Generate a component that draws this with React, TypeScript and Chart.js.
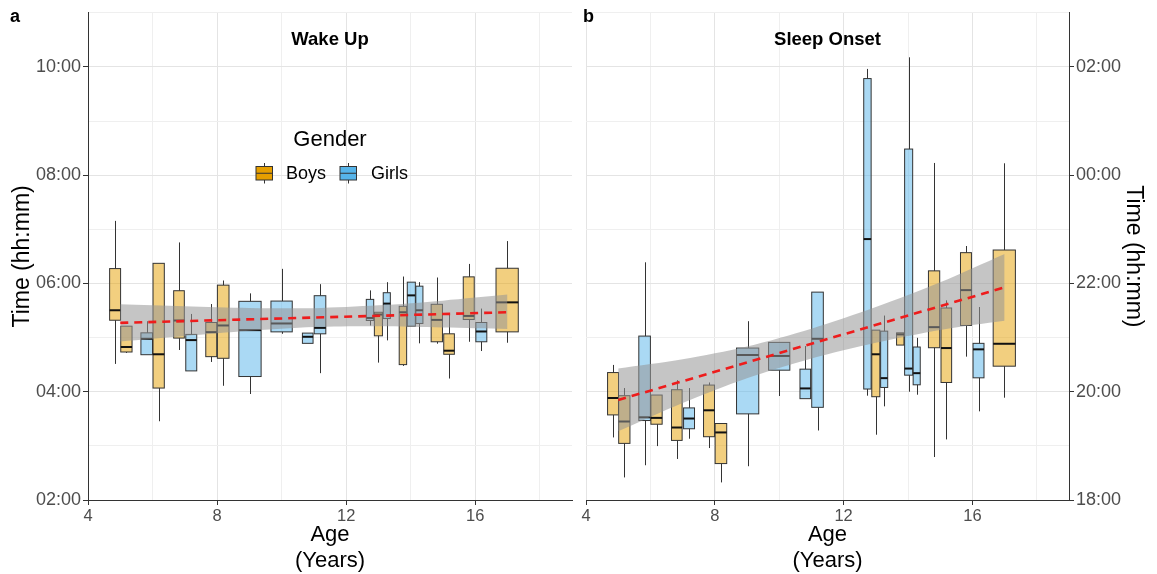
import React, { useEffect, useRef } from 'react';
import { Chart, registerables } from 'chart.js';

Chart.register(...registerables);

const FONT = "'Liberation Sans', Arial, sans-serif";

// Box positions (age in years) shared by both panels
const BOX_AGE = [4.84, 5.19, 5.82, 6.19, 6.82, 7.2, 7.82, 8.19, 9.02, 10.0, 10.81, 11.19, 12.74, 13.0, 13.26, 13.76, 14.02, 14.27, 14.81, 15.19, 15.8, 16.19, 16.99];
const BOX_WIDTH = [0.34, 0.35, 0.36, 0.35, 0.33, 0.34, 0.34, 0.36, 0.69, 0.66, 0.33, 0.36, 0.23, 0.25, 0.22, 0.23, 0.25, 0.22, 0.35, 0.33, 0.34, 0.34, 0.69];
const BOX_GENDER = ['Boys', 'Boys', 'Girls', 'Boys', 'Boys', 'Girls', 'Boys', 'Boys', 'Girls', 'Girls', 'Girls', 'Girls', 'Girls', 'Boys', 'Girls', 'Boys', 'Girls', 'Girls', 'Boys', 'Boys', 'Boys', 'Girls', 'Boys'];

// Wake up (hours)
const WAKE_LOW = [4.514, 4.716, 4.684, 3.455, 4.771, 4.385, 4.55, 4.11, 3.958, 5.07, 4.894, 4.343, 5.224, 4.538, 4.949, 4.477, 5.211, 4.894, 4.887, 4.244, 4.923, 4.752, 4.905];
const WAKE_Q1 = [5.321, 4.734, 4.684, 4.068, 4.991, 4.385, 4.648, 4.618, 4.281, 5.106, 4.894, 5.07, 5.316, 5.033, 5.352, 4.501, 5.211, 5.261, 4.923, 4.692, 5.334, 4.923, 5.106];
const WAKE_MED = [5.505, 4.826, 4.978, 4.692, 5.316, 4.954, 5.101, 5.224, 5.138, 5.261, 5.015, 5.18, 5.363, 5.426, 5.628, 5.468, 5.78, 5.505, 5.327, 4.758, 5.4, 5.113, 5.651];
const WAKE_Q3 = [6.275, 5.211, 5.088, 6.372, 5.866, 5.059, 5.279, 5.969, 5.67, 5.675, 5.083, 5.774, 5.706, 5.468, 5.829, 5.578, 6.024, 5.95, 5.615, 5.07, 6.122, 5.279, 6.281];
const WAKE_HIGH = [7.156, 5.211, 5.303, 6.372, 6.758, 5.437, 5.62, 6.055, 5.817, 6.27, 5.083, 5.987, 5.872, 5.468, 6.024, 6.128, 6.024, 6.024, 6.11, 5.426, 6.361, 5.536, 6.783];

// Sleep onset (hours, 24 = 00:00)
const ONSET_LOW = [19.156, 18.417, 18.642, 18.996, 18.758, 19.132, 18.96, 18.325, 18.624, 19.921, 19.872, 19.284, 19.927, 19.206, 19.73, 20.862, 20.0, 19.945, 18.794, 19.119, 20.648, 19.638, 19.89];
const ONSET_Q1 = [19.572, 19.046, 19.468, 19.4, 19.101, 19.316, 19.169, 18.673, 19.591, 20.398, 19.872, 19.712, 20.05, 19.908, 20.079, 20.862, 20.306, 20.128, 20.813, 20.171, 21.224, 20.257, 20.472];
const ONSET_MED = [19.884, 19.45, 19.528, 19.517, 19.339, 19.505, 19.657, 19.248, 20.679, 20.661, 20.061, 20.978, 22.82, 20.692, 20.251, 21.059, 20.428, 20.343, 21.193, 20.807, 21.877, 20.783, 20.886];
const ONSET_Q3 = [20.354, 19.927, 21.028, 19.939, 20.037, 19.701, 20.123, 19.413, 20.807, 20.912, 20.417, 21.84, 25.785, 21.138, 21.119, 21.088, 24.483, 20.826, 22.233, 21.547, 22.569, 20.894, 22.618];
const ONSET_HIGH = [20.495, 20.068, 22.391, 19.939, 20.215, 20.068, 20.171, 19.413, 21.303, 20.912, 20.844, 21.84, 25.963, 21.138, 21.407, 21.088, 26.178, 20.996, 24.226, 21.688, 22.692, 21.565, 24.22];

// Trend lines and confidence bands
const TREND_AGES = [5, 17];
const WAKE_TREND = [5.272, 5.468];
const ONSET_TREND = [19.848, 21.927];
const BAND_AGES = [5, 7, 9, 11, 13, 15, 17];
const WAKE_CI_HI = [5.615, 5.58, 5.548, 5.544, 5.596, 5.683, 5.794];
const WAKE_CI_LO = [4.929, 5.03, 5.126, 5.196, 5.21, 5.187, 5.16];
const ONSET_CI_HI = [20.428, 20.599, 20.835, 21.163, 21.564, 22.021, 22.545];
const ONSET_CI_LO = [19.268, 19.791, 20.247, 20.613, 20.904, 21.141, 21.309];

const GENDER_FILL: Record<string, string> = { Boys: 'rgba(230,159,0,0.5)', Girls: 'rgba(86,180,233,0.5)' };
const GENDER_SOLID: Record<string, string> = { Boys: '#E69F00', Girls: '#56B4E9' };

const pad2 = (n: number) => String(n).padStart(2, '0');

function boxPlugin(low: number[], q1: number[], med: number[], q3: number[], high: number[]) {
  return {
    id: 'boxes',
    beforeDatasetsDraw(chart: any) {
      const { ctx } = chart;
      const x = chart.scales.x;
      const y = chart.scales.y;
      ctx.save();
      for (let i = 0; i < BOX_AGE.length; i++) {
        const xc = Math.round(x.getPixelForValue(BOX_AGE[i])) + 0.5;
        const x0 = x.getPixelForValue(BOX_AGE[i] - BOX_WIDTH[i] / 2);
        const x1 = x.getPixelForValue(BOX_AGE[i] + BOX_WIDTH[i] / 2);
        const yl = y.getPixelForValue(low[i]);
        const y1 = y.getPixelForValue(q1[i]);
        const ym = y.getPixelForValue(med[i]);
        const y3 = y.getPixelForValue(q3[i]);
        const yh = y.getPixelForValue(high[i]);
        ctx.strokeStyle = '#333';
        ctx.lineWidth = 1;
        ctx.beginPath();
        ctx.moveTo(xc, yh);
        ctx.lineTo(xc, y3);
        ctx.moveTo(xc, y1);
        ctx.lineTo(xc, yl);
        ctx.stroke();
        ctx.fillStyle = GENDER_FILL[BOX_GENDER[i]];
        ctx.fillRect(x0, y3, x1 - x0, y1 - y3);
        ctx.strokeRect(x0, y3, x1 - x0, y1 - y3);
        ctx.strokeStyle = '#111';
        ctx.lineWidth = 2;
        ctx.beginPath();
        ctx.moveTo(x0, ym);
        ctx.lineTo(x1, ym);
        ctx.stroke();
      }
      ctx.restore();
    },
  };
}

function drawSwatch(ctx: any, x0: number, x1: number, y0: number, y1: number, color: string) {
  const xc = Math.round((x0 + x1) / 2) + 0.5;
  ctx.save();
  ctx.strokeStyle = '#333';
  ctx.lineWidth = 1;
  ctx.beginPath();
  ctx.moveTo(xc, y0 - 3.5);
  ctx.lineTo(xc, y0);
  ctx.moveTo(xc, y1);
  ctx.lineTo(xc, y1 + 3.5);
  ctx.stroke();
  ctx.fillStyle = color;
  ctx.fillRect(x0, y0, x1 - x0, y1 - y0);
  ctx.strokeRect(x0, y0, x1 - x0, y1 - y0);
  ctx.beginPath();
  ctx.moveTo(x0, (y0 + y1) / 2);
  ctx.lineTo(x1, (y0 + y1) / 2);
  ctx.stroke();
  ctx.restore();
}

function labelPlugin(letter: string, letterX: number, title: string, legend: boolean) {
  return {
    id: 'labels',
    afterDraw(chart: any) {
      const { ctx, chartArea } = chart;
      ctx.save();
      ctx.fillStyle = '#000';
      ctx.textBaseline = 'middle';
      ctx.textAlign = 'left';
      ctx.font = `bold 18px ${FONT}`;
      ctx.fillText(letter, letterX, 17);
      ctx.textAlign = 'center';
      ctx.font = `bold 18.5px ${FONT}`;
      ctx.fillText(title, (chartArea.left + chartArea.right) / 2, 40);
      if (legend) {
        ctx.font = `22px ${FONT}`;
        ctx.fillText('Gender', 330, 140);
        drawSwatch(ctx, 256, 272.5, 166.5, 180, GENDER_SOLID.Boys);
        drawSwatch(ctx, 340, 356.5, 166.5, 180, GENDER_SOLID.Girls);
        ctx.fillStyle = '#000';
        ctx.textAlign = 'left';
        ctx.font = `18px ${FONT}`;
        ctx.fillText('Boys', 286, 174);
        ctx.fillText('Girls', 371, 174);
      }
      ctx.restore();
    },
  };
}

function gridColor(v: number | undefined, major: number, step: number) {
  if (v === undefined) return 'transparent';
  if (v % major === 0) return '#e4e4e4';
  if (v % step === 0) return '#efefef';
  return 'transparent';
}

function buildConfig(side: 'left' | 'right') {
  const isLeft = side === 'left';
  const trend = isLeft ? WAKE_TREND : ONSET_TREND;
  const hi = isLeft ? WAKE_CI_HI : ONSET_CI_HI;
  const lo = isLeft ? WAKE_CI_LO : ONSET_CI_LO;
  const yMin = isLeft ? 2 : 18;
  const yMax = isLeft ? 11 : 27;
  return {
    type: 'line',
    data: {
      datasets: [
        {
          label: 'ci_hi',
          data: BAND_AGES.map((a, i) => ({ x: a, y: hi[i] })),
          borderColor: 'transparent',
          pointRadius: 0,
          fill: false,
          tension: 0.3,
          order: 3,
        },
        {
          label: 'ci_lo',
          data: BAND_AGES.map((a, i) => ({ x: a, y: lo[i] })),
          borderColor: 'transparent',
          backgroundColor: 'rgba(150,150,150,0.55)',
          pointRadius: 0,
          fill: '-1',
          tension: 0.3,
          order: 2,
        },
        {
          label: 'trend',
          data: TREND_AGES.map((a, i) => ({ x: a, y: trend[i] })),
          borderColor: '#ee1c1c',
          borderWidth: 2.6,
          borderDash: [8, 6],
          pointRadius: 0,
          fill: false,
          order: 0,
        },
      ],
    },
    options: {
      responsive: false,
      animation: false,
      devicePixelRatio: 1,
      layout: { padding: isLeft ? { top: 10, right: 6, left: 0, bottom: 0 } : { top: 10, right: 0, left: 8, bottom: 0 } },
      plugins: { legend: { display: false }, tooltip: { enabled: false } },
      scales: {
        x: {
          type: 'linear',
          position: 'bottom',
          min: 4,
          max: 19,
          ticks: {
            stepSize: 2,
            autoSkip: false,
            maxRotation: 0,
            padding: 2,
            color: '#4d4d4d',
            font: { size: 16.5, family: FONT },
            callback: (v: number) => (v % 4 === 0 ? String(v) : ''),
          },
          grid: {
            color: (c: any) => gridColor(c.tick ? c.tick.value : undefined, 4, 2),
            tickLength: 5,
            tickColor: (c: any) => (c.tick && c.tick.value % 4 === 0 ? '#333' : 'transparent'),
          },
          border: { display: true, color: '#333', width: 1 },
          title: {
            display: true,
            text: ['Age', '(Years)'],
            color: '#000',
            font: { size: 22, family: FONT, lineHeight: 1.18 },
            padding: { top: 0, bottom: 0 },
          },
          afterFit: (s: any) => {
            s.height = 74;
          },
        },
        y: {
          type: 'linear',
          position: isLeft ? 'left' : 'right',
          min: yMin,
          max: yMax,
          ticks: {
            stepSize: 1,
            autoSkip: false,
            padding: 2,
            color: '#4d4d4d',
            font: { size: 18, family: FONT },
            callback: (v: number) => (v % 2 === 0 ? `${pad2(v % 24)}:00` : ''),
          },
          grid: {
            color: (c: any) => gridColor(c.tick ? c.tick.value : undefined, 2, 1),
            tickLength: 5,
            tickColor: (c: any) => (c.tick && c.tick.value % 2 === 0 ? '#333' : 'transparent'),
          },
          border: { display: true, color: '#333', width: 1 },
          title: {
            display: true,
            text: 'Time (hh:mm)',
            color: '#000',
            font: { size: 23, family: FONT },
            padding: { top: isLeft ? 9 : 10, bottom: 0 },
          },
          afterFit: (s: any) => {
            s.width = 88;
          },
        },
      },
    },
    plugins: [
      isLeft
        ? boxPlugin(WAKE_LOW, WAKE_Q1, WAKE_MED, WAKE_Q3, WAKE_HIGH)
        : boxPlugin(ONSET_LOW, ONSET_Q1, ONSET_MED, ONSET_Q3, ONSET_HIGH),
      isLeft ? labelPlugin('a', 10, 'Wake Up', true) : labelPlugin('b', 5, 'Sleep Onset', false),
    ],
  };
}

export default function App() {
  const leftRef = useRef<HTMLCanvasElement | null>(null);
  const rightRef = useRef<HTMLCanvasElement | null>(null);

  useEffect(() => {
    Chart.defaults.font.family = FONT;
    const c1 = new Chart(leftRef.current as HTMLCanvasElement, buildConfig('left') as any);
    const c2 = new Chart(rightRef.current as HTMLCanvasElement, buildConfig('right') as any);
    return () => {
      c1.destroy();
      c2.destroy();
    };
  }, []);

  return (
    <div style={{ position: 'absolute', left: 0, top: 0, width: 1157, height: 574, background: '#fff' }}>
      <canvas ref={leftRef} width={578} height={574} style={{ position: 'absolute', left: 0, top: 0 }} />
      <canvas ref={rightRef} width={579} height={574} style={{ position: 'absolute', left: 578, top: 0 }} />
    </div>
  );
}
